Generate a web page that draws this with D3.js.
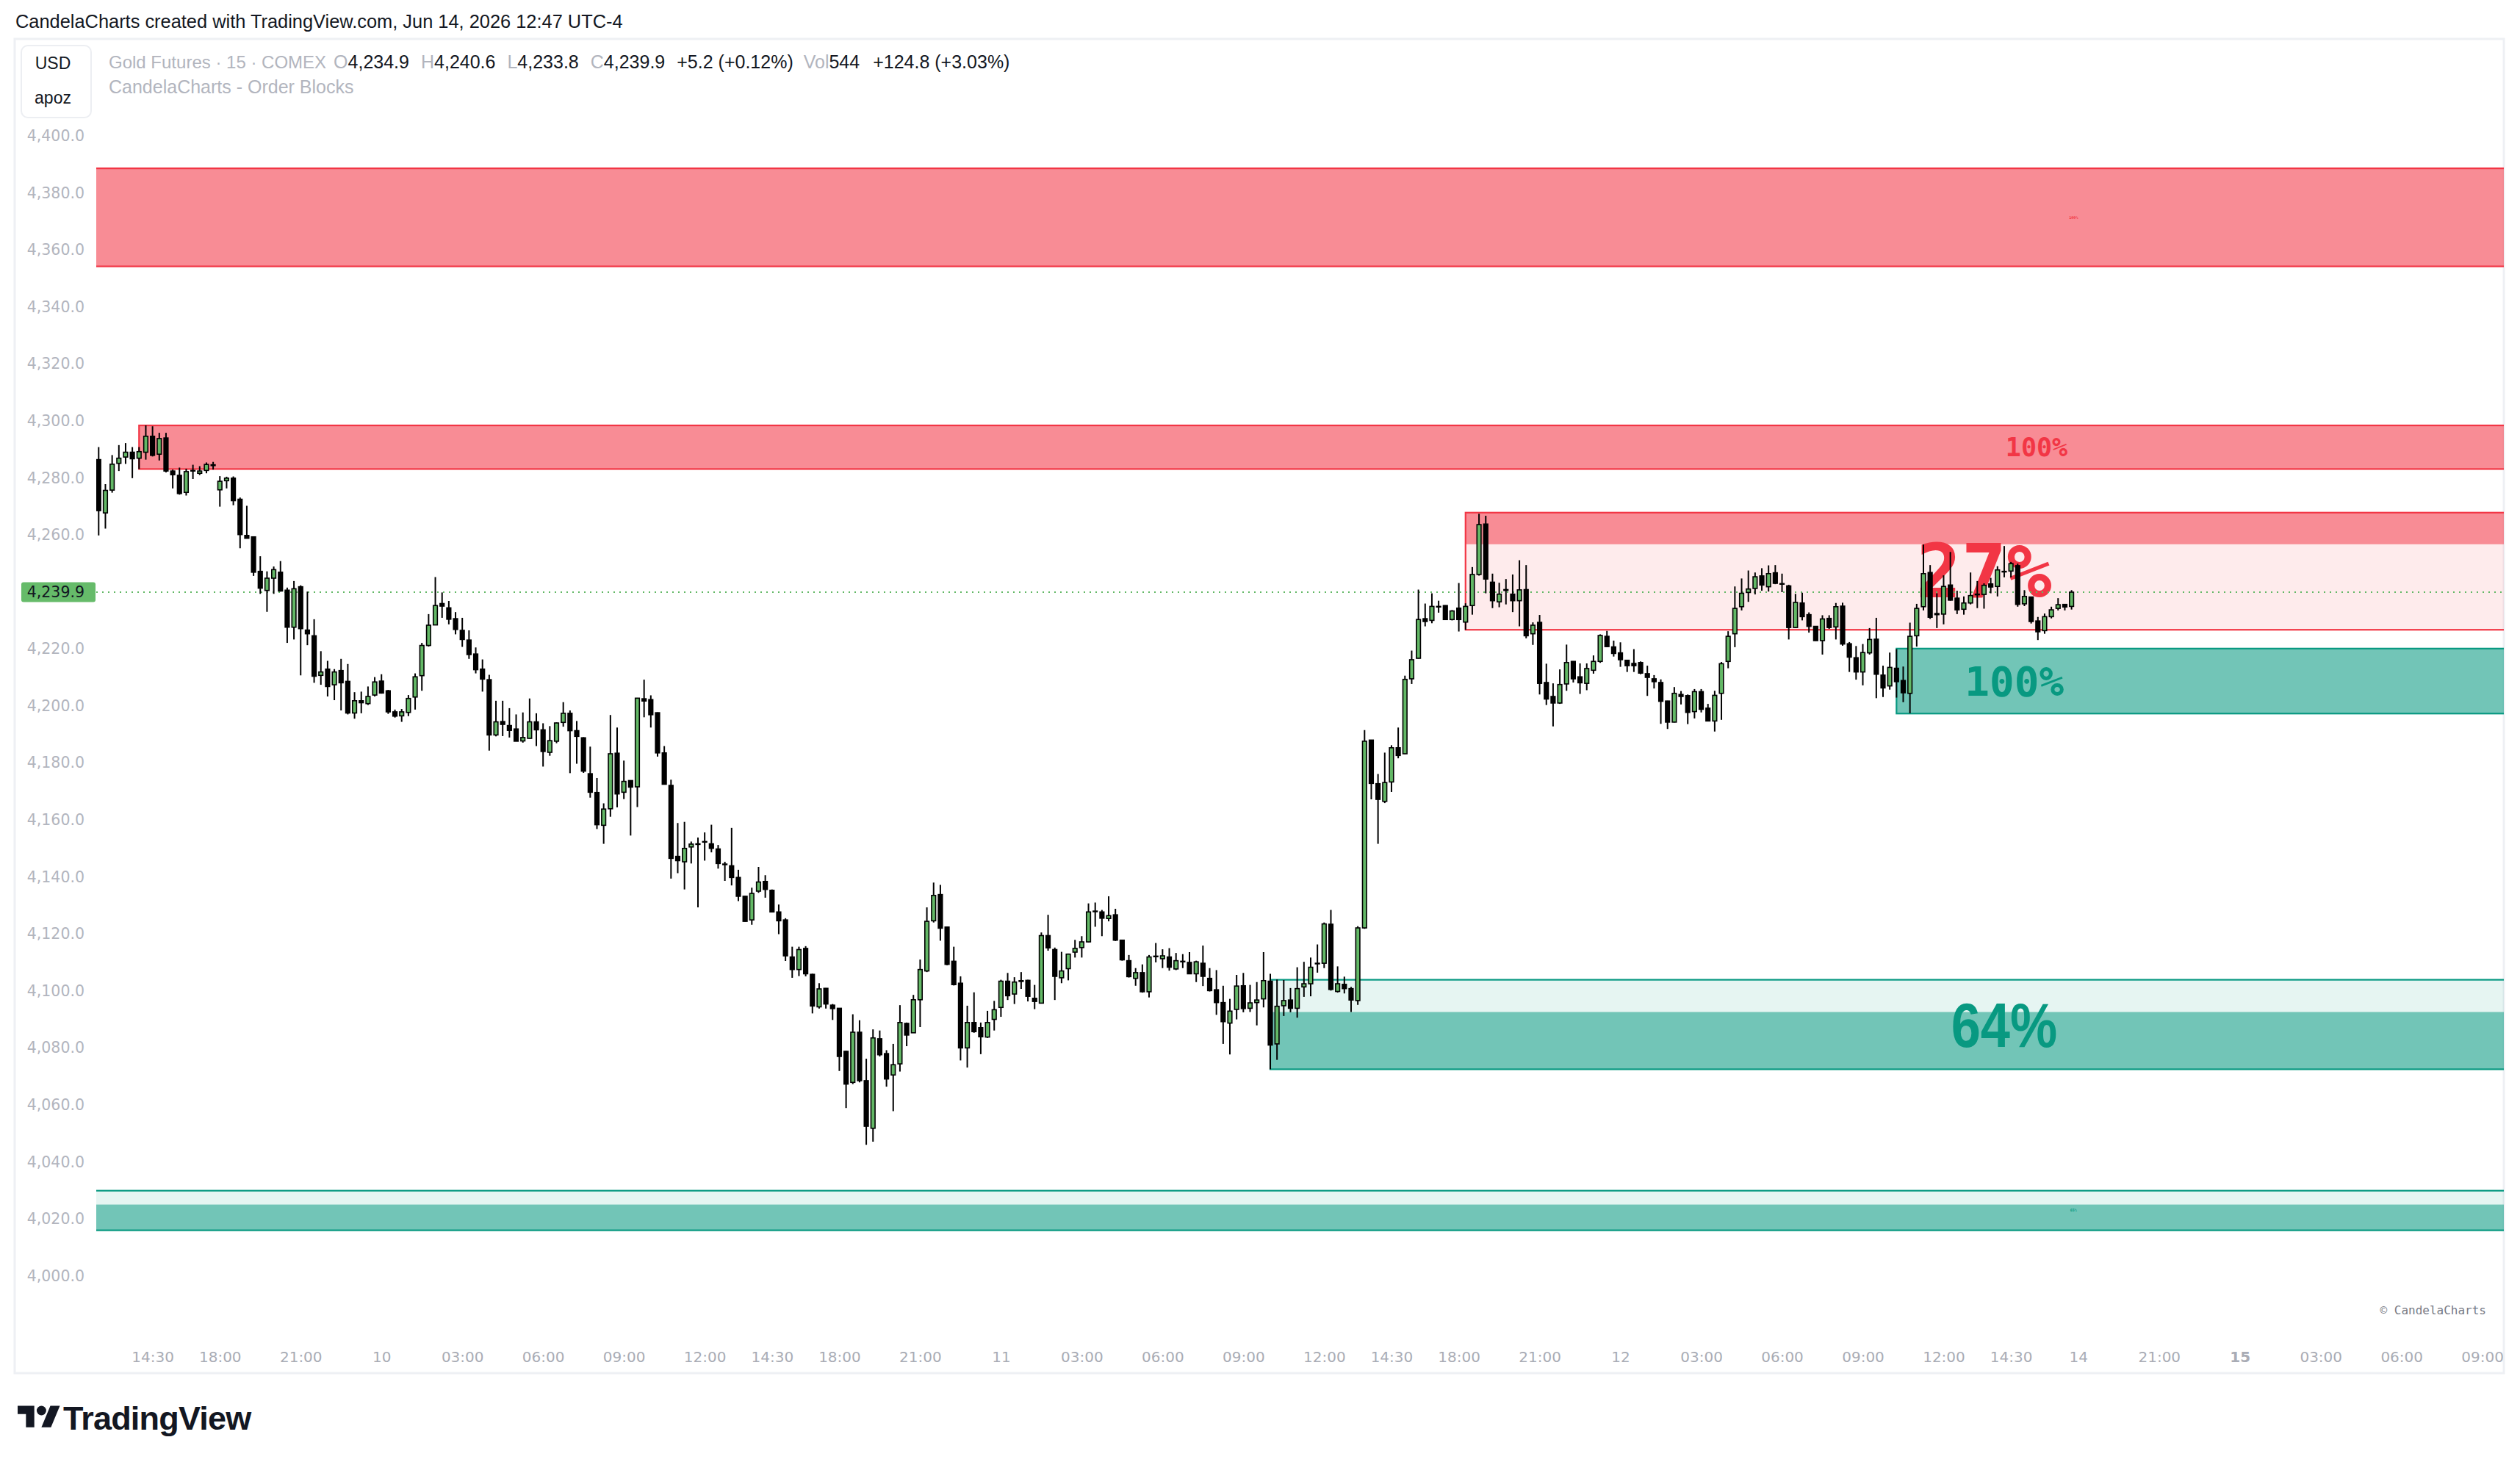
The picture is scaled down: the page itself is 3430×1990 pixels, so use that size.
<!DOCTYPE html>
<html>
<head>
<meta charset="utf-8">
<script src="https://cdn.jsdelivr.net/npm/d3@7"></script>
<style>
body{margin:0;background:#fff;}
svg{display:block;}
</style>
</head>
<body>
<svg id="vis" width="3430" height="1990"></svg>
<script>

// 15 minute bars of gold futures, first bar is Jun 9 12:30, [open, high, low, close]
var firstBar = new Date(2026, 5, 9, 12, 30);
var candles = [
[4286.4,4290.8,4259.8,4268.5],[4267.7,4277.8,4262.2,4275.6],[4275.7,4288.0,4274.8,4284.8],[4285.1,4291.5,4282.4,4286.9],
[4287.3,4292.2,4284.9,4289.0],[4289.0,4290.8,4279.9,4286.7],[4286.9,4290.8,4283.1,4289.2],[4289.0,4298.4,4286.4,4294.6],
[4294.6,4298.1,4287.5,4287.9],[4288.3,4295.8,4286.1,4293.8],[4294.0,4295.8,4281.9,4282.4],[4282.4,4282.9,4276.3,4281.1],
[4280.9,4283.6,4274.1,4274.5],[4274.9,4283.2,4273.8,4282.2],[4282.6,4284.6,4279.6,4282.4],[4281.6,4284.1,4281.0,4282.4],
[4282.6,4285.4,4281.6,4284.7],[4284.6,4285.6,4282.9,4284.3],[4275.8,4280.6,4269.9,4278.8],[4279.0,4280.4,4276.3,4279.9],
[4279.9,4280.5,4270.4,4272.0],[4272.5,4273.1,4255.3,4260.1],[4259.8,4270.2,4258.8,4258.8],[4259.3,4259.4,4245.6,4246.9],
[4247.2,4252.5,4239.3,4241.3],[4240.5,4247.2,4233.0,4244.8],[4244.8,4248.9,4239.3,4247.8],[4246.9,4250.8,4240.1,4240.3],
[4240.6,4241.5,4222.1,4227.6],[4227.6,4243.8,4223.3,4241.1],[4241.8,4242.3,4210.7,4227.1],[4226.6,4240.1,4221.3,4225.3],
[4224.6,4230.4,4208.1,4210.4],[4210.7,4219.2,4207.4,4211.9],[4212.9,4215.8,4203.3,4206.8],[4207.4,4212.9,4202.0,4211.9],
[4212.4,4216.5,4198.4,4208.1],[4208.6,4214.7,4197.0,4197.5],[4197.5,4204.8,4195.5,4201.8],[4201.8,4205.0,4197.4,4201.1],
[4200.8,4206.8,4200.3,4203.3],[4203.8,4210.1,4203.3,4208.4],[4208.7,4211.1,4204.3,4204.5],[4205.3,4205.6,4197.2,4197.9],
[4197.9,4198.7,4195.9,4196.4],[4196.5,4198.9,4194.4,4197.9],[4197.7,4203.8,4196.4,4202.6],[4203.1,4211.4,4198.7,4210.2],
[4210.6,4222.1,4205.3,4221.2],[4221.2,4232.2,4220.8,4228.3],[4228.4,4245.2,4228.3,4235.2],[4235.9,4239.8,4230.9,4235.0],
[4234.4,4236.8,4228.6,4230.4],[4230.6,4232.9,4225.1,4226.8],[4226.5,4230.9,4220.7,4223.3],[4223.1,4226.5,4216.5,4218.0],
[4218.2,4220.5,4211.4,4212.7],[4212.9,4216.3,4205.0,4209.4],[4209.2,4210.9,4184.3,4189.8],[4189.8,4201.8,4189.3,4194.4],
[4194.5,4201.8,4189.4,4193.5],[4193.1,4199.2,4188.9,4191.4],[4191.9,4197.0,4187.6,4187.6],[4187.7,4197.7,4187.1,4188.9],
[4188.6,4202.6,4188.5,4194.4],[4194.4,4197.4,4185.9,4191.6],[4191.6,4193.9,4178.7,4184.0],[4183.7,4192.9,4182.5,4187.8],
[4187.6,4194.2,4186.9,4194.0],[4194.2,4201.3,4192.7,4197.4],[4197.4,4198.4,4176.4,4191.3],[4191.3,4194.7,4179.7,4189.3],
[4188.8,4189.0,4176.5,4177.1],[4176.2,4185.7,4167.8,4169.7],[4169.6,4174.7,4156.8,4158.3],[4158.1,4165.8,4151.6,4163.8],
[4163.9,4196.8,4161.1,4183.2],[4183.4,4192.4,4164.4,4169.1],[4169.7,4180.8,4167.3,4173.5],[4173.8,4173.9,4154.5,4171.5],
[4171.6,4202.8,4164.5,4202.7],[4202.5,4209.2,4196.0,4201.7],[4202.2,4203.7,4192.4,4196.9],[4197.6,4197.7,4182.2,4183.5],
[4183.5,4185.9,4172.4,4172.5],[4172.1,4174.1,4139.4,4146.5],[4147.2,4158.9,4141.3,4145.7],[4145.3,4159.3,4135.6,4150.0],
[4150.5,4152.4,4144.7,4151.5],[4151.6,4153.8,4129.3,4151.4],[4152.4,4155.6,4145.7,4152.2],[4151.6,4158.3,4148.6,4150.0],
[4149.8,4151.2,4142.9,4144.7],[4144.5,4145.3,4138.6,4144.3],[4143.9,4157.2,4137.0,4139.8],[4139.8,4142.5,4131.5,4133.2],
[4133.2,4133.3,4124.3,4124.4],[4124.9,4136.2,4123.2,4134.2],[4135.0,4143.5,4134.4,4138.2],[4138.4,4140.6,4132.7,4135.6],
[4135.3,4135.6,4127.6,4127.7],[4127.7,4130.3,4119.9,4124.6],[4124.9,4125.5,4110.5,4112.3],[4111.9,4115.5,4104.6,4107.5],
[4107.5,4115.5,4105.2,4114.5],[4114.9,4115.7,4105.1,4106.0],[4105.8,4106.0,4092.1,4094.7],[4094.4,4102.7,4093.8,4100.7],
[4100.9,4101.0,4093.8,4095.4],[4095.0,4095.4,4089.8,4093.8],[4093.9,4094.0,4071.9,4077.0],[4078.8,4079.0,4058.9,4067.3],
[4067.9,4091.8,4067.3,4085.5],[4085.5,4089.7,4067.9,4068.5],[4068.5,4076.2,4046.0,4052.5],[4051.8,4086.5,4047.1,4083.5],
[4083.2,4086.1,4077.0,4077.6],[4078.0,4079.2,4066.4,4069.1],[4070.5,4081.4,4057.8,4074.1],[4074.4,4095.0,4071.7,4088.9],
[4088.6,4088.9,4080.6,4084.5],[4085.3,4098.6,4085.3,4096.9],[4096.9,4111.0,4087.3,4107.5],[4107.0,4129.3,4106.6,4124.4],
[4124.6,4138.0,4124.0,4133.5],[4133.8,4137.2,4117.6,4122.0],[4122.4,4122.5,4109.0,4109.3],[4110.4,4115.5,4101.9,4102.2],
[4102.7,4105.1,4075.6,4080.0],[4080.0,4094.8,4073.1,4088.9],[4088.9,4099.5,4085.3,4085.7],[4087.1,4088.9,4077.8,4083.9],
[4083.8,4093.0,4083.5,4088.9],[4090.0,4096.5,4086.1,4093.4],[4094.2,4103.9,4090.9,4103.4],[4103.4,4106.3,4096.8,4098.3],
[4098.9,4104.8,4095.4,4103.1],[4103.6,4106.6,4100.7,4103.3],[4103.7,4103.9,4096.3,4098.1],[4097.4,4102.1,4093.6,4096.3],
[4095.7,4120.5,4095.6,4119.4],[4119.4,4126.7,4114.1,4115.1],[4114.5,4115.2,4096.8,4105.1],[4104.6,4113.7,4102.7,4107.0],
[4107.8,4113.1,4103.7,4112.9],[4113.6,4117.9,4111.7,4114.9],[4115.2,4119.2,4111.7,4117.2],[4117.2,4130.7,4117.0,4127.7],
[4128.0,4131.0,4122.5,4127.8],[4127.7,4128.4,4119.2,4125.5],[4125.4,4133.2,4124.4,4126.4],[4126.7,4128.8,4117.5,4117.8],
[4117.8,4117.9,4110.6,4110.9],[4110.6,4112.6,4104.7,4105.0],[4104.4,4108.0,4101.8,4106.4],[4106.4,4109.3,4099.4,4099.7],
[4099.7,4112.6,4097.7,4111.9],[4112.2,4116.8,4110.0,4112.0],[4111.3,4114.6,4108.0,4112.3],[4111.9,4115.0,4107.1,4108.3],
[4107.7,4113.3,4107.3,4110.6],[4110.4,4112.9,4108.0,4110.2],[4110.0,4113.6,4105.9,4106.0],[4106.0,4110.6,4103.1,4110.2],
[4109.7,4115.9,4101.7,4105.1],[4104.4,4108.0,4099.8,4100.1],[4100.4,4107.3,4091.6,4095.9],[4095.9,4101.8,4081.4,4089.2],
[4088.7,4097.2,4077.7,4092.9],[4093.5,4105.6,4090.0,4101.7],[4101.8,4106.3,4092.5,4093.8],[4093.9,4102.1,4092.6,4095.8],
[4095.9,4103.1,4087.9,4096.8],[4097.2,4113.6,4094.2,4103.6],[4103.4,4106.0,4072.5,4081.0],[4081.4,4104.0,4075.8,4094.6],
[4094.8,4103.8,4091.2,4096.6],[4096.8,4101.0,4092.5,4093.9],[4093.9,4108.3,4090.6,4100.8],[4101.4,4110.2,4097.9,4102.5],
[4102.5,4111.7,4098.1,4108.3],[4109.7,4116.3,4106.4,4109.5],[4109.7,4124.0,4108.0,4123.5],[4123.4,4128.4,4100.1,4100.5],
[4099.8,4108.6,4099.4,4102.5],[4102.3,4105.0,4099.1,4100.8],[4100.8,4101.4,4092.6,4096.8],[4096.6,4122.7,4095.1,4122.1],
[4122.1,4191.5,4121.8,4187.6],[4188.0,4188.0,4167.2,4172.8],[4172.7,4176.1,4151.6,4167.2],[4166.5,4183.6,4165.9,4173.1],
[4173.3,4186.2,4169.8,4185.3],[4185.3,4192.4,4181.6,4182.6],[4183.2,4210.6,4183.1,4209.3],[4209.5,4219.4,4207.7,4216.2],
[4216.7,4240.8,4216.6,4230.3],[4230.6,4235.9,4227.9,4229.6],[4230.0,4239.5,4229.0,4234.9],[4234.9,4236.9,4232.7,4234.7],
[4235.2,4235.3,4230.1,4230.3],[4230.3,4233.6,4230.0,4233.3],[4234.3,4243.1,4226.1,4230.3],[4229.4,4236.0,4226.7,4234.9],
[4235.2,4248.7,4232.0,4246.1],[4246.1,4267.4,4245.7,4263.6],[4263.8,4266.7,4239.5,4244.5],[4243.4,4246.4,4234.3,4236.9],
[4236.5,4243.2,4234.6,4239.2],[4240.8,4244.5,4235.6,4240.5],[4239.2,4246.1,4232.9,4236.9],[4236.9,4251.1,4227.9,4240.7],
[4240.8,4249.4,4223.7,4224.6],[4225.3,4229.3,4221.4,4228.3],[4229.3,4231.9,4204.0,4207.9],[4208.2,4214.8,4200.3,4202.4],
[4203.3,4207.9,4192.8,4201.0],[4201.0,4212.8,4200.7,4207.5],[4207.7,4221.5,4205.3,4215.2],[4215.6,4215.7,4208.2,4209.5],
[4210.2,4214.9,4204.2,4208.1],[4207.9,4214.9,4205.5,4213.1],[4212.5,4217.7,4211.3,4215.6],[4215.6,4225.1,4215.1,4224.7],
[4224.4,4226.3,4220.6,4220.8],[4220.7,4222.9,4217.3,4218.4],[4218.6,4222.3,4213.7,4216.2],[4216.0,4216.1,4211.9,4214.1],
[4214.9,4219.9,4211.9,4214.1],[4215.2,4215.6,4211.1,4211.5],[4211.3,4214.1,4203.5,4210.0],[4209.5,4210.8,4206.1,4208.5],
[4208.2,4209.3,4193.7,4201.6],[4201.7,4201.8,4191.9,4194.3],[4194.3,4206.6,4194.2,4204.4],[4204.0,4205.2,4200.5,4203.3],
[4203.6,4204.0,4193.6,4197.7],[4198.0,4205.9,4195.6,4205.0],[4205.0,4205.9,4197.7,4198.8],[4199.2,4200.7,4194.6,4194.7],
[4194.7,4205.3,4191.0,4203.7],[4204.4,4215.4,4195.1,4214.8],[4215.6,4226.2,4213.2,4224.4],[4225.3,4241.9,4220.6,4234.2],
[4234.8,4244.7,4233.5,4239.5],[4239.8,4247.5,4236.5,4241.0],[4241.2,4246.8,4239.1,4245.3],[4245.6,4248.3,4240.4,4242.4],
[4241.8,4249.3,4240.1,4246.4],[4246.7,4249.4,4242.7,4243.0],[4242.9,4246.4,4239.9,4242.7],[4242.1,4242.5,4223.3,4227.5],
[4227.5,4239.3,4227.3,4236.3],[4236.1,4239.7,4230.0,4231.3],[4232.0,4232.8,4225.7,4227.9],[4227.9,4228.0,4222.8,4222.9],
[4222.9,4231.8,4218.0,4230.5],[4230.7,4231.8,4227.0,4227.5],[4227.7,4236.1,4223.3,4234.8],[4235.0,4236.2,4221.1,4221.7],
[4221.8,4222.4,4211.9,4217.1],[4216.9,4221.0,4209.2,4211.9],[4211.9,4221.7,4207.2,4218.7],[4218.6,4227.3,4218.0,4223.3],
[4223.4,4230.9,4202.7,4211.1],[4210.8,4214.1,4203.1,4206.3],[4207.0,4218.7,4205.7,4213.5],[4213.2,4219.9,4202.9,4208.5],
[4208.9,4213.8,4201.3,4204.6],[4204.4,4229.2,4197.4,4224.4],[4224.6,4235.8,4220.8,4234.2],[4234.8,4256.6,4233.5,4246.4],
[4246.8,4249.4,4230.5,4231.1],[4232.4,4239.5,4227.3,4232.0],[4232.2,4245.8,4228.6,4241.9],[4242.4,4254.0,4236.9,4237.1],
[4237.8,4240.4,4232.2,4233.7],[4233.9,4238.4,4232.0,4236.1],[4236.1,4246.8,4235.6,4238.7],[4239.2,4243.8,4234.3,4239.0],
[4239.1,4243.0,4234.1,4242.3],[4242.8,4244.9,4239.5,4241.7],[4241.9,4249.0,4238.4,4247.7],[4247.2,4256.1,4245.1,4247.0],
[4247.3,4250.5,4245.1,4249.9],[4249.2,4249.9,4234.8,4235.6],[4235.8,4240.6,4235.0,4238.4],[4238.2,4238.3,4228.9,4229.6],
[4229.8,4231.2,4223.1,4226.0],[4226.4,4232.4,4225.3,4231.3],[4231.3,4234.8,4230.7,4233.7],[4234.2,4237.8,4233.5,4235.5],
[4235.6,4235.7,4233.5,4234.7],[4234.9,4240.6,4233.8,4239.9]
];
var lastVolume = 544, volumeChange = 124.8, volumeChangePct = 3.03;

// order blocks: start bar (-1 = off the left edge), top, bottom, side, share still unmitigated
var zoneStart  = [-1, 6, 203, 267, 174, -1];
var zoneTop    = [4388.6, 4298.4, 4267.8, 4220.1, 4103.9, 4029.9];
var zoneBottom = [4354.2, 4283.1, 4226.7, 4197.3, 4072.5, 4016.0];
var zoneSide   = ["bear", "bear", "bear", "bull", "bull", "bull"];
var zonePct    = [100, 100, 27, 100, 64, 65];

// time axis
var tickTimes = ["2026-06-09 14:30","2026-06-09 18:00","2026-06-09 21:00","2026-06-10 00:00","2026-06-10 03:00",
    "2026-06-10 06:00","2026-06-10 09:00","2026-06-10 12:00","2026-06-10 14:30","2026-06-10 18:00","2026-06-10 21:00",
    "2026-06-11 00:00","2026-06-11 03:00","2026-06-11 06:00","2026-06-11 09:00","2026-06-11 12:00","2026-06-11 14:30",
    "2026-06-11 18:00","2026-06-11 21:00","2026-06-12 00:00","2026-06-12 03:00","2026-06-12 06:00","2026-06-12 09:00",
    "2026-06-12 12:00","2026-06-12 14:30","2026-06-14 18:00","2026-06-14 21:00","2026-06-15 00:00","2026-06-15 03:00",
    "2026-06-15 06:00","2026-06-15 09:00"];
var tickLabels = ["14:30","18:00","21:00","10","03:00","06:00","09:00","12:00","14:30","18:00","21:00","11","03:00",
    "06:00","09:00","12:00","14:30","18:00","21:00","12","03:00","06:00","09:00","12:00","14:30","14","21:00","15",
    "03:00","06:00","09:00"];
var priceTicks = [4000,4020,4040,4060,4080,4100,4120,4140,4160,4180,4200,4220,4260,4280,4300,4320,4340,4360,4380,4400];

var red = '#f23645', teal = '#089981', upFill = '#63b866';

var svg = d3.select('#vis');
var plot = {l: 131, r: 3408, t: 54, b: 1810};

var x = d3.scaleLinear().domain([-0.36, 357.2]).range([plot.l, plot.r]);
var y = d3.scaleLinear().domain([4000, 4400]).range([1736.7, 184.9]);

svg.append('rect').attr('width', 3430).attr('height', 1990).attr('fill', '#fff');

svg.append('defs').append('clipPath').attr('id', 'plot-clip')
    .append('rect')
    .attr('x', plot.l).attr('y', plot.t)
    .attr('width', plot.r - plot.l).attr('height', plot.b - plot.t);

//outer frame of the chart
svg.append('rect')
    .attr('x', 20).attr('y', 53)
    .attr('width', 3388).attr('height', 1816)
    .attr('fill', 'none')
    .attr('stroke', '#eef0f4')
    .attr('stroke-width', 3);

var plotGroup = svg.append('g').attr('clip-path', 'url(#plot-clip)');

drawZones();
drawZoneLabels();
drawPriceLine();
drawCandles();
drawAxes();
drawHeader();


//build bar times, market closed 17:00-18:00 and friday 17:00 to sunday 18:00
function barTimes(start, n) {
    var out = [], t = new Date(start);
    while (out.length < n) {
        var h = t.getHours(), d = t.getDay();
        var closed = h === 17 || d === 6 || (d === 5 && h >= 17) || (d === 0 && h < 18);
        if (!closed) out.push(new Date(t));
        t = new Date(t.getTime() + 15 * 60000);
    }
    return out;
}

function drawZones() {
    var zones = zoneTop.map(function (d, i) {
        return {start: zoneStart[i], top: zoneTop[i], bottom: zoneBottom[i], side: zoneSide[i], pct: zonePct[i]};
    });

    var g = plotGroup.append('g').attr('class', 'zones');

    zones.forEach(function (z) {
        var col = z.side === 'bear' ? red : teal;
        var x0 = z.start < 0 ? plot.l - 4 : x(z.start);
        var w = plot.r + 4 - x0;
        var h = z.top - z.bottom;
        // part price has already traded through
        var solidTop = z.side === 'bear' ? z.top : z.bottom + h * z.pct / 100;
        var solidBottom = z.side === 'bear' ? z.top - h * z.pct / 100 : z.bottom;

        g.append('rect')
            .attr('x', x0).attr('y', y(z.top))
            .attr('width', w).attr('height', y(z.bottom) - y(z.top))
            .attr('fill', col).attr('fill-opacity', 0.1);

        g.append('rect')
            .attr('x', x0).attr('y', y(solidTop))
            .attr('width', w).attr('height', y(solidBottom) - y(solidTop))
            .attr('fill', col).attr('fill-opacity', 0.52);

        g.append('rect')
            .attr('x', x0).attr('y', y(z.top))
            .attr('width', w).attr('height', y(z.bottom) - y(z.top))
            .attr('fill', 'none')
            .attr('stroke', col).attr('stroke-width', 2.2);
    });
}

function drawZoneLabels() {
    // label centre (bar index), font size, font, horizontal squeeze
    var mono = "'DejaVu Sans Mono', monospace";
    var sans = "'Liberation Sans', Arial, sans-serif";
    var labelStyle = [
        {at: 293.3, size: 5, font: mono, sx: 1},
        {at: 287.8, size: 35, font: mono, sx: 1},
        {at: 280.0, size: 102, font: mono, sx: 1},
        {at: 284.5, size: 56, font: mono, sx: 1},
        {at: 283.0, size: 86, font: sans, sx: 0.84},
        {at: 293.3, size: 5, font: mono, sx: 1}
    ];

    var g = plotGroup.append('g').attr('class', 'zone-labels');

    zoneTop.forEach(function (top, i) {
        var mid = y((top + zoneBottom[i]) / 2);
        var s = labelStyle[i];
        g.append('text')
            .attr('transform', 'translate(' + x(s.at) + ',' + (mid + s.size * 0.35) + ') scale(' + s.sx + ',1)')
            .style('text-anchor', 'middle')
            .style('font-family', s.font)
            .style('font-weight', 'bold')
            .style('font-size', s.size + 'px')
            .attr('fill', zoneSide[i] === 'bear' ? red : teal)
            .text(zonePct[i] + '%');
    });
}

function drawPriceLine() {
    var last = candles[candles.length - 1][3];
    plotGroup.append('line')
        .attr('x1', plot.l).attr('x2', plot.r)
        .attr('y1', y(last)).attr('y2', y(last))
        .attr('stroke', upFill)
        .attr('stroke-width', 2)
        .attr('stroke-dasharray', '2,6');
}

function drawCandles() {
    var bodyW = 5.6;
    var g = plotGroup.append('g').attr('class', 'candles');

    var bars = g.selectAll('.bar')
        .data(candles)
        .enter()
        .append('g')
        .attr('class', 'bar');

    bars.append('line')
        .attr('x1', function (d, i) { return x(i); })
        .attr('x2', function (d, i) { return x(i); })
        .attr('y1', function (d) { return y(d[1]); })
        .attr('y2', function (d) { return y(d[2]); })
        .attr('stroke', '#000')
        .attr('stroke-width', 2);

    bars.append('rect')
        .attr('x', function (d, i) { return x(i) - bodyW / 2; })
        .attr('y', function (d) { return y(Math.max(d[0], d[3])); })
        .attr('width', bodyW)
        .attr('height', function (d) { return Math.max(0.8, Math.abs(y(d[0]) - y(d[3]))); })
        .attr('fill', function (d) { return d[3] >= d[0] ? upFill : '#000'; })
        .attr('stroke', '#000')
        .attr('stroke-width', 1.6);
}

function drawAxes() {
    var times = barTimes(firstBar, 360);
    var fmt = d3.timeFormat('%Y-%m-%d %H:%M');
    var keys = times.map(fmt);
    var tickIdx = tickTimes.map(function (t) { return keys.indexOf(t); });

    var yAxis = svg.append('g')
        .attr('class', 'axis axis--y')
        .attr('transform', 'translate(115,0)')
        .call(d3.axisLeft(y).tickValues(priceTicks).tickFormat(d3.format(',.1f')).tickSize(0).tickPadding(0));
    yAxis.select('.domain').remove();
    yAxis.selectAll('text')
        .attr('fill', '#b2b5be')
        .style('font-family', "'DejaVu Sans', sans-serif")
        .style('font-size', '20.5px');

    var xAxis = svg.append('g')
        .attr('class', 'axis axis--x')
        .attr('transform', 'translate(0,1840)')
        .call(d3.axisBottom(x).tickValues(tickIdx).tickFormat(function (d, i) { return tickLabels[i]; })
            .tickSize(0).tickPadding(0));
    xAxis.select('.domain').remove();
    xAxis.selectAll('text')
        .attr('fill', '#a9acb5')
        .style('font-family', "'DejaVu Sans', sans-serif")
        .style('font-size', '20px')
        .style('font-weight', function (d, i) { return tickLabels[i] === '15' ? 'bold' : 'normal'; });

    //last price tag on the scale
    var last = candles[candles.length - 1][3];
    svg.append('rect')
        .attr('x', 29).attr('y', y(last) - 13.5)
        .attr('width', 101).attr('height', 27)
        .attr('rx', 3)
        .attr('fill', '#66bb6a');
    svg.append('text')
        .attr('x', 115).attr('y', y(last) + 7)
        .style('text-anchor', 'end')
        .style('font-family', "'DejaVu Sans', sans-serif")
        .style('font-size', '20.5px')
        .attr('fill', '#131722')
        .text(d3.format(',.1f')(last));
}

function drawHeader() {
    var sans = "'Liberation Sans', Arial, sans-serif";

    svg.append('text')
        .attr('x', 21).attr('y', 38)
        .style('font-family', sans).style('font-size', '25.4px')
        .attr('fill', '#131722')
        .text('CandelaCharts created with TradingView.com, Jun 14, 2026 12:47 UTC-4');

    // currency / unit box
    svg.append('rect')
        .attr('x', 29).attr('y', 62)
        .attr('width', 95).attr('height', 98)
        .attr('rx', 9)
        .attr('fill', '#fff')
        .attr('stroke', '#eceef2').attr('stroke-width', 2);
    svg.append('text').attr('x', 72).attr('y', 94)
        .style('text-anchor', 'middle').style('font-family', sans).style('font-size', '23px')
        .attr('fill', '#131722').text('USD');
    svg.append('text').attr('x', 72).attr('y', 141)
        .style('text-anchor', 'middle').style('font-family', sans).style('font-size', '23px')
        .attr('fill', '#131722').text('apoz');

    var last = candles[candles.length - 1];
    var prev = candles[candles.length - 2][3];
    var f = d3.format(',.1f');
    var chg = last[3] - prev;
    var gray = '#b2b5be';
    var legend = svg.append('text')
        .attr('x', 148).attr('y', 93)
        .style('font-family', sans).style('font-size', '25px')
        .attr('fill', '#131722');
    legend.append('tspan').attr('fill', gray).style('font-size', '24px').text('Gold Futures · 15 · COMEX');
    legend.append('tspan').attr('dx', 10).attr('fill', gray).text('O');
    legend.append('tspan').text(f(last[0]));
    legend.append('tspan').attr('dx', 16).attr('fill', gray).text('H');
    legend.append('tspan').text(f(last[1]));
    legend.append('tspan').attr('dx', 16).attr('fill', gray).text('L');
    legend.append('tspan').text(f(last[2]));
    legend.append('tspan').attr('dx', 16).attr('fill', gray).text('C');
    legend.append('tspan').text(f(last[3]));
    legend.append('tspan').attr('dx', 16)
        .text('+' + chg.toFixed(1) + ' (+' + (chg / prev * 100).toFixed(2) + '%)');
    legend.append('tspan').attr('dx', 14).attr('fill', gray).text('Vol');
    legend.append('tspan').text(lastVolume);
    legend.append('tspan').attr('dx', 18).text('+' + volumeChange + ' (+' + volumeChangePct + '%)');

    svg.append('text')
        .attr('x', 148).attr('y', 127)
        .style('font-family', sans).style('font-size', '25px')
        .attr('fill', gray)
        .text('CandelaCharts - Order Blocks');

    svg.append('text')
        .attr('x', 3384).attr('y', 1789)
        .style('text-anchor', 'end')
        .style('font-family', "'DejaVu Sans Mono', monospace")
        .style('font-size', '16px')
        .attr('fill', '#787b86')
        .text('© CandelaCharts');

    //tradingview logo
    var logo = svg.append('g').attr('transform', 'translate(24,1907) scale(1.62)');
    logo.append('path').attr('d', 'M14 22H7V11H0V4h14v18z').attr('fill', '#131722');
    logo.append('path').attr('d', 'M28 22h-8l7.5-18h8L28 22z').attr('fill', '#131722');
    logo.append('circle').attr('cx', 20).attr('cy', 8).attr('r', 4).attr('fill', '#131722');

    svg.append('text')
        .attr('x', 86).attr('y', 1946)
        .style('font-family', sans).style('font-weight', 'bold').style('font-size', '45px')
        .style('letter-spacing', '-0.8px')
        .attr('fill', '#131722')
        .text('TradingView');
}
</script>
</body>
</html>
